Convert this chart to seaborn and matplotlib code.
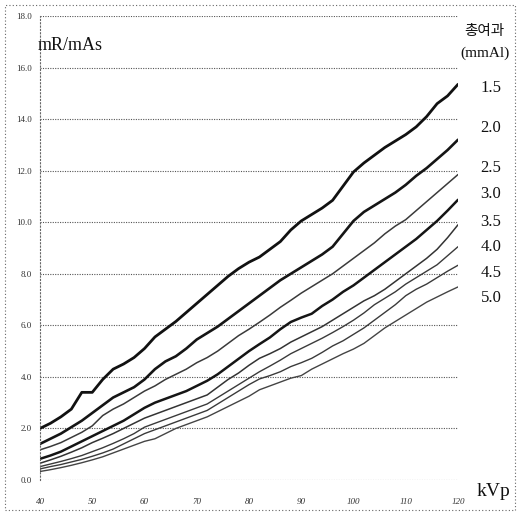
import matplotlib
matplotlib.use("Agg")
import matplotlib.pyplot as plt
import seaborn as sns
import pandas as pd
from matplotlib.patches import Rectangle

kvp = list(range(40, 121, 2))

filtration_labels = ["1.5", "2.0", "2.5", "3.0", "3.5", "4.0", "4.5", "5.0"]

f15 = [2.0, 2.2, 2.45, 2.75, 3.4, 3.4, 3.9, 4.3, 4.5, 4.75, 5.1, 5.55, 5.85, 6.15, 6.5, 6.85,
       7.2, 7.55, 7.9, 8.2, 8.45, 8.65, 8.95, 9.25, 9.7, 10.05, 10.3, 10.55, 10.85, 11.4, 11.95,
       12.3, 12.6, 12.9, 13.15, 13.4, 13.7, 14.1, 14.6, 14.9, 15.35]
f20 = [1.4, 1.6, 1.8, 2.05, 2.3, 2.6, 2.9, 3.2, 3.4, 3.6, 3.9, 4.3, 4.6, 4.8, 5.1, 5.45,
       5.7, 5.95, 6.25, 6.55, 6.85, 7.15, 7.45, 7.75, 8.0, 8.25, 8.5, 8.75, 9.05, 9.55, 10.05,
       10.4, 10.65, 10.9, 11.15, 11.45, 11.8, 12.1, 12.45, 12.8, 13.2]
f25 = [1.17, 1.3, 1.45, 1.65, 1.85, 2.1, 2.5, 2.75, 2.95, 3.2, 3.45, 3.65, 3.9, 4.1, 4.3, 4.55,
       4.75, 5.0, 5.3, 5.6, 5.85, 6.12, 6.4, 6.7, 6.97, 7.25, 7.5, 7.75, 8.0, 8.3, 8.6,
       8.9, 9.2, 9.55, 9.85, 10.1, 10.45, 10.8, 11.15, 11.5, 11.85]
f30 = [0.82, 0.95, 1.1, 1.3, 1.5, 1.7, 1.9, 2.1, 2.3, 2.55, 2.8, 3.0, 3.15, 3.3, 3.45, 3.65,
       3.85, 4.1, 4.4, 4.7, 5.0, 5.27, 5.53, 5.85, 6.13, 6.3, 6.45, 6.75, 7.0, 7.3, 7.55,
       7.85, 8.15, 8.45, 8.75, 9.05, 9.35, 9.7, 10.05, 10.45, 10.87]
f35 = [0.65, 0.78, 0.92, 1.08, 1.25, 1.45, 1.62, 1.8, 2.0, 2.2, 2.4, 2.55, 2.7, 2.85, 3.0, 3.15,
       3.3, 3.6, 3.9, 4.15, 4.45, 4.72, 4.9, 5.1, 5.35, 5.55, 5.75, 5.95, 6.2, 6.45, 6.7,
       6.95, 7.15, 7.4, 7.7, 8.0, 8.3, 8.6, 8.95, 9.4, 9.9]
f40 = [0.52, 0.62, 0.72, 0.83, 0.95, 1.1, 1.25, 1.42, 1.6, 1.8, 2.05, 2.2, 2.35, 2.5, 2.65, 2.8,
       2.95, 3.2, 3.45, 3.7, 3.95, 4.2, 4.42, 4.65, 4.9, 5.1, 5.3, 5.5, 5.72, 5.95, 6.2,
       6.48, 6.8, 7.05, 7.3, 7.6, 7.85, 8.1, 8.35, 8.7, 9.05]
f45 = [0.43, 0.52, 0.6, 0.7, 0.8, 0.92, 1.05, 1.2, 1.4, 1.6, 1.8, 1.95, 2.1, 2.25, 2.4, 2.55,
       2.7, 2.95, 3.2, 3.45, 3.7, 3.92, 4.05, 4.2, 4.4, 4.55, 4.72, 4.95, 5.2, 5.4, 5.65,
       5.9, 6.2, 6.5, 6.8, 7.15, 7.4, 7.6, 7.85, 8.1, 8.33]
f50 = [0.33, 0.4, 0.48, 0.57, 0.67, 0.78, 0.9, 1.05, 1.2, 1.35, 1.5, 1.6, 1.8, 2.0, 2.15, 2.3,
       2.45, 2.65, 2.85, 3.05, 3.25, 3.5, 3.65, 3.8, 3.95, 4.05, 4.3, 4.5, 4.7, 4.9, 5.08,
       5.3, 5.6, 5.9, 6.15, 6.4, 6.65, 6.9, 7.1, 7.3, 7.49]

series = [f15, f20, f25, f30, f35, f40, f45, f50]
yticks = [0, 2, 4, 6, 8, 10, 12, 14, 16, 18]
xticks = [40, 50, 60, 70, 80, 90, 100, 110, 120]

rows = []
for lab, vals in zip(filtration_labels, series):
    for x, y in zip(kvp, vals):
        rows.append({"kVp": x, "mR": y, "filt": lab})
df = pd.DataFrame(rows)

sns.set_theme(style="white")
plt.rcParams["font.family"] = ["Liberation Serif", "DejaVu Serif"]

W, H = 518, 514
fig = plt.figure(figsize=(W / 100, H / 100), dpi=100)
ax = fig.add_axes([40 / W, (H - 480) / H, (458 - 40) / W, (480 - 16) / H])

widths = {"1.5": 2.0, "2.0": 1.9, "2.5": 1.1, "3.0": 1.8, "3.5": 1.1, "4.0": 1.0, "4.5": 1.0, "5.0": 1.0}
colors = {"1.5": "#111111", "2.0": "#151515", "2.5": "#3a3a3a", "3.0": "#151515",
          "3.5": "#333333", "4.0": "#3a3a3a", "4.5": "#3a3a3a", "5.0": "#444444"}
for lab in filtration_labels:
    sub = df[df["filt"] == lab]
    sns.lineplot(data=sub, x="kVp", y="mR", ax=ax, color=colors[lab],
                 linewidth=widths[lab], legend=False)

ax.set_xlim(40, 120)
ax.set_ylim(0, 18)
ax.set_xticks(xticks)
ax.set_yticks(yticks)
ax.set_xticklabels([str(v) for v in xticks], fontsize=6.5, style="italic", color="#333333")
ax.set_yticklabels([f"{v:.1f}" for v in yticks], fontsize=6.5, color="#333333")
ax.tick_params(axis="y", length=0, pad=6)
ax.tick_params(axis="x", length=0, pad=13)
ax.set_xlabel("")
ax.set_ylabel("")
for v in yticks:
    ax.axhline(v, color="#555555", linestyle=(0, (1, 1.2)), linewidth=0.8, zorder=0)
ax.grid(False)
for s in ["top", "right", "bottom"]:
    ax.spines[s].set_visible(False)
ax.spines["left"].set_linestyle((0, (1, 2)))
ax.spines["left"].set_color("#666666")
ax.spines["left"].set_linewidth(0.8)

fig.text(38 / W, 1 - 45 / H, "mR/mAs", fontsize=13, ha="left", va="center", color="#111111")
fig.text(477 / W, 1 - 492 / H, "kVp", fontsize=14, ha="left", va="center", color="#111111")
fig.text(484 / W, 1 - 31 / H, "총여과", fontsize=10.5, ha="center", va="center",
         family=["Noto Sans CJK KR", "DejaVu Sans"], color="#111111")
fig.text(485 / W, 1 - 53 / H, "(mmAl)", fontsize=11, ha="center", va="center", color="#111111")
label_px = [88, 128, 168, 194, 222, 247, 273, 298]
for lab, py in zip(filtration_labels, label_px):
    fig.text(491 / W, 1 - py / H, lab, fontsize=12, ha="center", va="center", color="#111111")

fig.patches.append(Rectangle((5 / W, 4 / H), 510 / W, 505 / H, transform=fig.transFigure,
                             fill=False, linestyle=(0, (1, 2)), edgecolor="#666666", linewidth=0.8))

fig.savefig("out.png", dpi=100)
